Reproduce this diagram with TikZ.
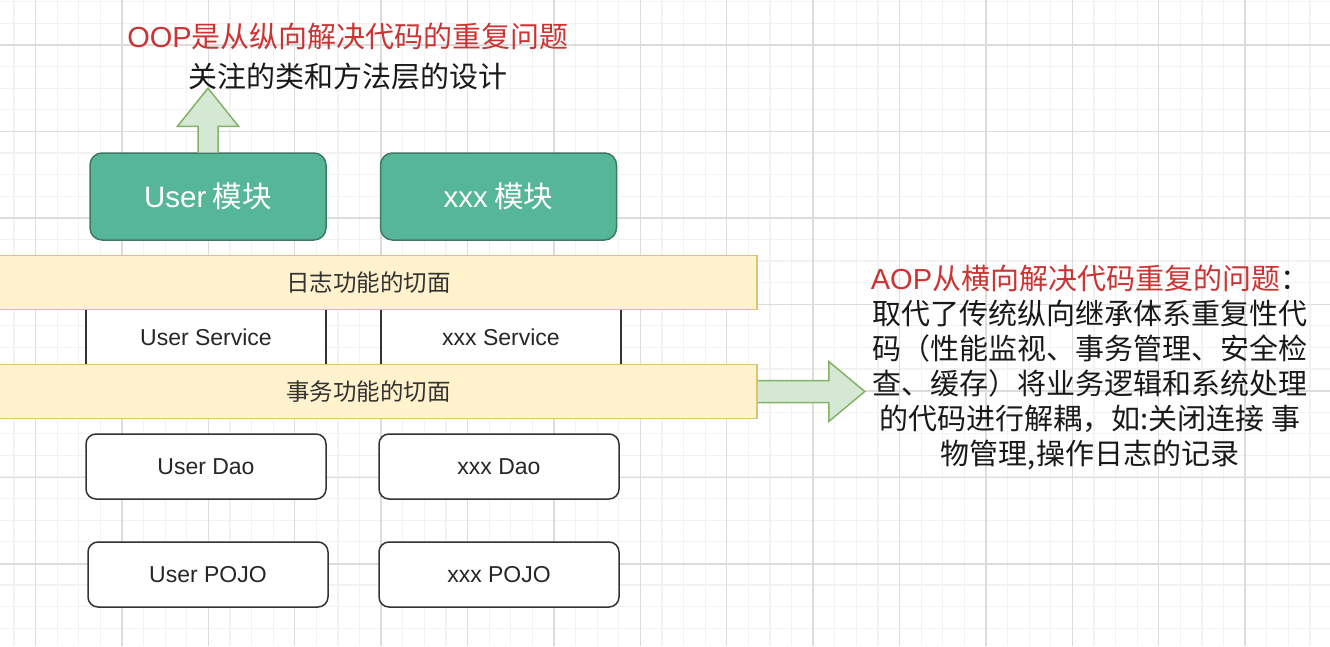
\documentclass[tikz,border=0pt]{standalone}
\usepackage{fontspec}
\setmainfont{Noto Sans CJK SC}
\newfontfamily\arialfont{Liberation Sans}
\usetikzlibrary{positioning,calc}
\definecolor{modfill}{RGB}{85,182,152}
\definecolor{modline}{RGB}{61,122,102}
\definecolor{cutfill}{RGB}{255,242,204}
\definecolor{cutline}{RGB}{222,196,112}
\definecolor{arrfill}{RGB}{213,232,212}
\definecolor{arrline}{RGB}{130,179,102}
\definecolor{notered}{RGB}{204,51,51}
\definecolor{gridmajor}{RGB}{220,220,220}
\definecolor{gridminor}{RGB}{242,242,242}
\tikzset{
  module/.style={draw=modline,fill=modfill,line width=1.5pt,rounded corners=12pt,minimum width=236pt,minimum height=87pt,text=white,font=\fontsize{29.5}{34}\selectfont},
  layer/.style={draw=black!80,fill=white,line width=1.5pt,rounded corners=10pt,minimum width=240pt,minimum height=65pt,text=black!85,font=\fontsize{23}{27}\selectfont},
  service/.style={layer,rounded corners=0pt,minimum height=80pt},
  aspect/.style={draw=cutline,fill=cutfill,line width=1.5pt,minimum width=777pt,minimum height=54pt,text=black!80,font=\fontsize{23.5}{27}\selectfont},
  blockarrow/.style={draw=arrline,fill=arrfill,line width=1.5pt,line join=miter},
  note/.style={align=center,text=black!90,font=\fontsize{29}{40}\selectfont}
}
\begin{document}
\begin{tikzpicture}[x=1pt,y=-1pt]
  \useasboundingbox (0,0) rectangle (1330,646);
  \clip (0,0) rectangle (1330,646);
  \fill[white] (0,0) rectangle (1330,646);
  % background grid
  \foreach \gx in {0,...,61} \draw[gridminor,line width=1.2pt] ({13.9+21.6*\gx},0) -- ++(0,646);
  \foreach \gy in {0,...,29} \draw[gridminor,line width=1.2pt] (0,{1.8+21.6*\gy}) -- ++(1330,0);
  \foreach \gx in {0,...,15} \draw[gridmajor,line width=1.4pt] ({35.5+86.4*\gx},0) -- ++(0,646);
  \foreach \gy in {0,...,7} \draw[gridmajor,line width=1.4pt] (0,{45+86.5*\gy}) -- ++(1330,0);

  % modules and layers
  \node[module] (usermod) at (208,196.5) {{\arialfont User} 模块};
  \node[module] (xxxmod) at (498.5,196.5) {{\arialfont xxx} 模块};
  \node[service] (usersrv) at (206,337) {\arialfont User Service};
  \node[service] (xxxsrv) at (501,337) {\arialfont xxx Service};
  \node[aspect] (logcut) at (368.5,282.5) {日志功能的切面};
  \node[aspect] (txcut) at (368.5,391.5) {事务功能的切面};
  \node[layer] (userdao) at (206,466.5) {\arialfont User Dao};
  \node[layer] (xxxdao) at (499,466.5) {\arialfont xxx Dao};
  \node[layer] (userpojo) at (208,574.5) {\arialfont User POJO};
  \node[layer] (xxxpojo) at (499,574.5) {\arialfont xxx POJO};

  % notes
  \node[note] (oopnote) at (348,57) {\textcolor{notered}{{\arialfont OOP}是从纵向解决代码的重复问题}\\关注的类和方法层的设计};
  \node[note,font=\fontsize{29}{35}\selectfont] (aopnote) at (1090,368) {\textcolor{notered}{{\arialfont AOP}从横向解决代码重复的问题}：\\取代了传统纵向继承体系重复性代\\码（性能监视、事务管理、安全检\\查、缓存）将业务逻辑和系统处理\\的代码进行解耦，如:关闭连接 事\\物管理,操作日志的记录};

  % block arrows
  \draw[blockarrow] ($(usermod.north)+(-10,0)$) -- ++(0,-26) -- ++(-20.5,0) -- ($(usermod.north)+(0,-64)$) -- ($(usermod.north)+(30.5,-26)$) -- ++(-20.5,0) -- ++(0,26);
  \draw[blockarrow] ($(txcut.east)+(0,-11)$) -- ++(71,0) -- ++(0,-19) -- ($(txcut.east)+(107,0)$) -- ($(txcut.east)+(71,30)$) -- ++(0,-19) -- ++(-71,0);
\end{tikzpicture}
\end{document}
